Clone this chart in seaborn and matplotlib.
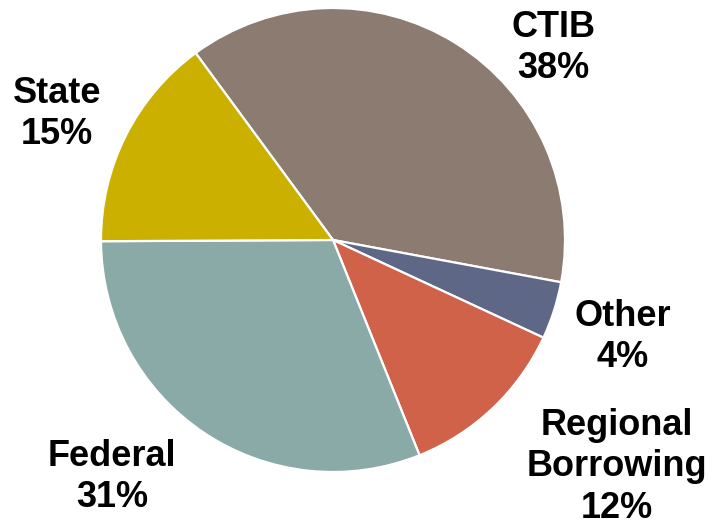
import matplotlib
matplotlib.use("Agg")
import matplotlib.pyplot as plt
import seaborn as sns

categories = ["CTIB", "Other", "Regional\nBorrowing", "Federal", "State"]
shares = [38, 4, 12, 31, 15]
colors_hex = ["#8B7B70", "#5F6787", "#D1624A", "#8AAAA8", "#CCB000"]

sns.set_style("white")
plt.rcParams['font.family'] = ['Liberation Sans', 'DejaVu Sans']

W, H = 713, 527
cx, cy, R = 333, 240, 232  # pixel layout of the pie

fig = plt.figure(figsize=(W / 100, H / 100), dpi=100)
ax = fig.add_axes([0, 0, 1, 1])
palette = sns.color_palette(colors_hex)
ax.pie(shares, colors=palette, startangle=126.3, counterclock=False,
       radius=1, center=(0, 0),
       wedgeprops=dict(edgecolor="white", linewidth=1.6))
ax.set_xlim(-cx / R, (W - cx) / R)
ax.set_ylim(-(H - cy) / R, cy / R)
ax.set_aspect("equal")
ax.axis("off")

# label centres in pixels
label_px = [(553, 48), (623, 337), (617, 467), (112, 477), (57, 114)]
for cat, val, (px, py) in zip(categories, shares, label_px):
    x = (px - cx) / R
    y = (cy - py) / R
    ax.text(x, y, f"{cat}\n{val}%", ha="center", va="center",
            fontsize=26, fontweight="bold", color="black", linespacing=1.25)

fig.savefig("out.png", dpi=100)
